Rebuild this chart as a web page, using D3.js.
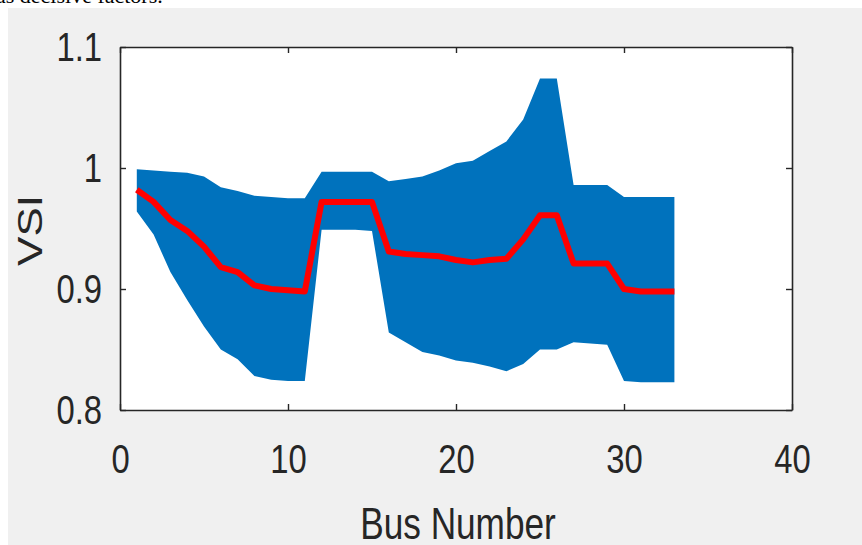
<!DOCTYPE html>
<html>
<head>
<meta charset="utf-8">
<script src="https://cdn.jsdelivr.net/npm/d3@7"></script>
<style>
    html, body { margin: 0; padding: 0; background: #ffffff; }
    svg { display: block; }
</style>
</head>
<body>
<svg id="chart" width="862" height="545"></svg>
<script>
(function () {
    "use strict";

    // bus index of the 33 bus feeder
    var buses = [1, 2, 3, 4, 5, 6, 7, 8, 9, 10, 11, 12, 13, 14, 15, 16, 17,
        18, 19, 20, 21, 22, 23, 24, 25, 26, 27, 28, 29, 30, 31, 32, 33];
    // VSI band (max / min) and mean curve
    var vsiUpper = [0.999, 0.998, 0.997, 0.996, 0.993, 0.984, 0.981, 0.977, 0.976, 0.975, 0.975,
        0.997, 0.997, 0.997, 0.997, 0.989, 0.991, 0.993, 0.998, 1.004, 1.006, 1.014, 1.022,
        1.040, 1.074, 1.074, 0.986, 0.986, 0.986, 0.976, 0.976, 0.976, 0.976];
    var vsiLower = [0.964, 0.945, 0.914, 0.891, 0.869, 0.850, 0.842, 0.828, 0.825, 0.824, 0.824,
        0.949, 0.949, 0.949, 0.948, 0.864, 0.856, 0.848, 0.845, 0.841, 0.839, 0.836, 0.832,
        0.838, 0.850, 0.850, 0.856, 0.855, 0.854, 0.824, 0.823, 0.823, 0.823];
    var vsiMean = [0.982, 0.972, 0.957, 0.948, 0.935, 0.918, 0.914, 0.903, 0.900, 0.899, 0.898,
        0.972, 0.972, 0.972, 0.972, 0.931, 0.929, 0.928, 0.927, 0.924, 0.922, 0.924, 0.925,
        0.941, 0.961, 0.961, 0.921, 0.921, 0.921, 0.900, 0.898, 0.898, 0.898];
    var xTicks = [0, 10, 20, 30, 40];
    var yTicks = [0.8, 0.9, 1, 1.1];
    var xTickLabels = ["0", "10", "20", "30", "40"];
    var yTickLabels = ["0.8", "0.9", "1", "1.1"];

    var axisColor = "#262626";
    var fontFamily = "'Liberation Sans', Arial, Helvetica, sans-serif";
    var squeeze = 0.8; // source picture is horizontally squashed

    var svg = d3.select("#chart");

    // cut-off line of text from the page above the figure
    svg.append("text")
        .attr("x", -4)
        .attr("y", 3)
        .attr("font-family", "'Liberation Serif', 'Times New Roman', serif")
        .attr("font-size", 22)
        .attr("fill", "#000")
        .text("as decisive factors.");

    // figure background
    svg.append("rect")
        .attr("x", 8)
        .attr("y", 8)
        .attr("width", 854)
        .attr("height", 537)
        .attr("fill", "#f0f0f0");

    var left = 120, right = 792, top = 47, bottom = 410;

    var x = d3.scaleLinear().domain([0, 40]).range([left, right]);
    var y = d3.scaleLinear().domain([0.8, 1.1]).range([bottom, top]);

    svg.append("rect")
        .attr("x", left)
        .attr("y", top)
        .attr("width", right - left)
        .attr("height", bottom - top)
        .attr("fill", "#ffffff");

    var rows = buses.map(function (b, i) {
        return { bus: b, hi: vsiUpper[i], lo: vsiLower[i], mean: vsiMean[i] };
    });

    var area = d3.area()
        .x(function (d) { return x(d.bus); })
        .y0(function (d) { return y(d.lo); })
        .y1(function (d) { return y(d.hi); });

    svg.append("path")
        .datum(rows)
        .attr("d", area)
        .attr("fill", "#0072bd");

    var line = d3.line()
        .x(function (d) { return x(d.bus); })
        .y(function (d) { return y(d.mean); });

    svg.append("path")
        .datum(rows)
        .attr("d", line)
        .attr("fill", "none")
        .attr("stroke", "#ff0000")
        .attr("stroke-width", 6)
        .attr("stroke-linejoin", "round");

    // axes, ticks pointing inward on all four sides
    function styleAxis(g) {
        g.select(".domain").attr("stroke", axisColor).attr("stroke-width", 1.6);
        g.selectAll(".tick line").attr("stroke", axisColor).attr("stroke-width", 1.4);
        g.selectAll(".tick text")
            .attr("fill", axisColor)
            .attr("font-family", fontFamily)
            .attr("font-size", 41);
    }

    var gBottom = svg.append("g")
        .attr("transform", "translate(0," + bottom + ")")
        .call(d3.axisBottom(x).tickValues(xTicks)
            .tickFormat(function (d, i) { return xTickLabels[i]; })
            .tickSizeInner(-6).tickSizeOuter(0).tickPadding(34))
        .call(styleAxis);
    gBottom.selectAll(".tick text")
        .attr("transform", "scale(" + squeeze + ",1)");

    var gLeft = svg.append("g")
        .attr("transform", "translate(" + left + ",0)")
        .call(d3.axisLeft(y).tickValues(yTicks)
            .tickFormat(function (d, i) { return yTickLabels[i]; })
            .tickSizeInner(-6).tickSizeOuter(0).tickPadding(18))
        .call(styleAxis);
    gLeft.selectAll(".tick text")
        .attr("x", -18 / squeeze)
        .attr("transform", "scale(" + squeeze + ",1)");

    svg.append("g")
        .attr("transform", "translate(0," + top + ")")
        .call(d3.axisTop(x).tickValues(xTicks).tickFormat("")
            .tickSizeInner(-6).tickSizeOuter(0))
        .call(styleAxis);

    svg.append("g")
        .attr("transform", "translate(" + right + ",0)")
        .call(d3.axisRight(y).tickValues(yTicks).tickFormat("")
            .tickSizeInner(-6).tickSizeOuter(0))
        .call(styleAxis);

    // axis titles
    svg.append("text")
        .attr("transform", "translate(" + ((left + right) / 2 + 2) + ",539) scale(" + squeeze + ",1)")
        .attr("text-anchor", "middle")
        .attr("font-family", fontFamily)
        .attr("font-size", 44)
        .attr("fill", axisColor)
        .text("Bus Number");

    svg.append("text")
        .attr("transform", "translate(42," + ((top + bottom) / 2 + 2) + ") scale(" + squeeze + ",1) rotate(-90)")
        .attr("text-anchor", "middle")
        .attr("font-family", fontFamily)
        .attr("font-size", 44)
        .attr("fill", axisColor)
        .text("VSI");
})();
</script>
</body>
</html>
